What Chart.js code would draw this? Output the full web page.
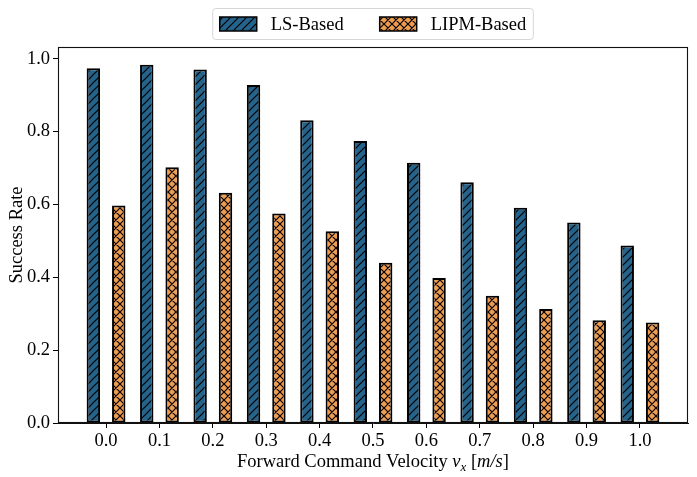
<!DOCTYPE html>
<html>
<head>
<meta charset="utf-8">
<script src="https://cdn.jsdelivr.net/npm/chart.js@4.4.1/dist/chart.umd.min.js"></script>
<style>
  body { margin: 0; background: #fff; }
  canvas { display: block; }
</style>
</head>
<body>
<canvas id="chart" width="697" height="477"></canvas>
<script>
// data
const velocities = [0.0, 0.1, 0.2, 0.3, 0.4, 0.5, 0.6, 0.7, 0.8, 0.9, 1.0];
const velocityLabels = ["0.0", "0.1", "0.2", "0.3", "0.4", "0.5", "0.6", "0.7", "0.8", "0.9", "1.0"];
const lsBased = [0.974, 0.983, 0.970, 0.928, 0.831, 0.774, 0.714, 0.661, 0.591, 0.550, 0.487];
const lipmBased = [0.597, 0.702, 0.632, 0.575, 0.526, 0.440, 0.398, 0.349, 0.313, 0.282, 0.276];
const rateTicks = [0.0, 0.2, 0.4, 0.6, 0.8, 1.0];
const rateLabels = ["0.0", "0.2", "0.4", "0.6", "0.8", "1.0"];

const FONT = "'Liberation Serif', 'Times New Roman', serif";
const FONT_SIZE = 18.5;

// matplotlib style hatching ("//" and "xx")
function makeHatch(bg, cross) {
  const size = 8;
  const c = document.createElement("canvas");
  c.width = size;
  c.height = size;
  const g = c.getContext("2d");
  g.fillStyle = bg;
  g.fillRect(0, 0, size, size);
  g.strokeStyle = "#000";
  g.lineWidth = 1.2;
  g.beginPath();
  g.moveTo(-1, size + 1); g.lineTo(size + 1, -1);
  g.moveTo(-1, 1); g.lineTo(1, -1);
  g.moveTo(size - 1, size + 1); g.lineTo(size + 1, size - 1);
  if (cross) {
    g.moveTo(-1, -1); g.lineTo(size + 1, size + 1);
    g.moveTo(size - 1, -1); g.lineTo(size + 1, 1);
    g.moveTo(-1, size - 1); g.lineTo(1, size + 1);
  }
  g.stroke();
  return g.createPattern(c, "repeat");
}

const blueHatch = makeHatch("#23638c", false);
const orangeHatch = makeHatch("#f09c4f", true);

// box around the axes, legend with hatched handles, x label with italics
const decorations = {
  id: "decorations",
  afterDraw(chart) {
    const ctx = chart.ctx;
    const area = chart.chartArea;
    ctx.save();

    // spines
    ctx.strokeStyle = "#111";
    ctx.lineWidth = 1.1;
    ctx.strokeRect(Math.round(area.left) + 0.5, Math.round(area.top) + 0.5,
      Math.round(area.right - area.left) - 1, Math.round(area.bottom - area.top) - 1);

    // legend
    ctx.font = `${FONT_SIZE}px ${FONT}`;
    const sets = chart.data.datasets;
    const handleW = 37, handleH = 14, textGap = 14, colGap = 36, pad = 7;
    const widths = sets.map(d => ctx.measureText(d.label).width);
    const total = widths.reduce((a, w) => a + handleW + textGap + w, 0) + colGap * (sets.length - 1) + 2 * pad;
    const cx = (area.left + area.right) / 2;
    const top = 8.5, h = 31;
    let x = cx - total / 2;
    ctx.beginPath();
    ctx.roundRect(x, top, total, h, 3);
    ctx.fillStyle = "rgba(255,255,255,0.8)";
    ctx.fill();
    ctx.strokeStyle = "#d6d6d6";
    ctx.lineWidth = 1;
    ctx.stroke();
    x += pad;
    const midY = top + h / 2;
    sets.forEach((d, i) => {
      ctx.fillStyle = d.backgroundColor;
      ctx.fillRect(x, midY - handleH / 2, handleW, handleH);
      ctx.strokeStyle = "#000";
      ctx.lineWidth = 1.5;
      ctx.strokeRect(x, midY - handleH / 2, handleW, handleH);
      ctx.fillStyle = "#000";
      ctx.textBaseline = "middle";
      ctx.textAlign = "left";
      ctx.fillText(d.label, x + handleW + textGap, midY + 1);
      x += handleW + textGap + widths[i] + colGap;
    });

    // x axis title: Forward Command Velocity v_x [m/s]
    const parts = [
      { t: "Forward Command Velocity ", f: `${FONT_SIZE}px ${FONT}`, dy: 0 },
      { t: "v", f: `italic ${FONT_SIZE}px ${FONT}`, dy: 0 },
      { t: "x", f: `italic ${FONT_SIZE * 0.7}px ${FONT}`, dy: 3.5 },
      { t: " [", f: `${FONT_SIZE}px ${FONT}`, dy: 0 },
      { t: "m/s", f: `italic ${FONT_SIZE}px ${FONT}`, dy: 0 },
      { t: "]", f: `${FONT_SIZE}px ${FONT}`, dy: 0 }
    ];
    let tw = 0;
    parts.forEach(p => { ctx.font = p.f; p.w = ctx.measureText(p.t).width; tw += p.w; });
    let tx = cx - tw / 2;
    const baseY = 467;
    ctx.textBaseline = "alphabetic";
    ctx.fillStyle = "#000";
    parts.forEach(p => {
      ctx.font = p.f;
      ctx.fillText(p.t, tx, baseY + p.dy);
      tx += p.w;
    });
    ctx.restore();
  }
};

Chart.defaults.font.family = FONT;
Chart.defaults.font.size = FONT_SIZE;
Chart.defaults.color = "#000";

new Chart(document.getElementById("chart"), {
  type: "bar",
  data: {
    datasets: [
      {
        label: "LS-Based",
        data: velocities.map((v, i) => ({ x: v, y: lsBased[i] })),
        backgroundColor: blueHatch,
        borderColor: "#000",
        borderWidth: 2,
        borderSkipped: false
      },
      {
        label: "LIPM-Based",
        data: velocities.map((v, i) => ({ x: v, y: lipmBased[i] })),
        backgroundColor: orangeHatch,
        borderColor: "#000",
        borderWidth: 2,
        borderSkipped: false
      }
    ]
  },
  options: {
    responsive: false,
    animation: false,
    categoryPercentage: 0.951,
    barPercentage: 0.528,
    layout: { padding: { top: 47, right: 9, left: 0, bottom: 0 } },
    plugins: {
      legend: { display: false },
      tooltip: { enabled: false }
    },
    scales: {
      x: {
        type: "linear",
        offset: false,
        min: -0.09,
        max: 1.09,
        afterBuildTicks: s => { s.ticks = velocities.map(v => ({ value: v })); },
        afterFit: s => { s.height = 54; },
        ticks: {
          callback: (v, i) => velocityLabels[i],
          padding: 2,
          maxRotation: 0
        },
        grid: {
          display: true,
          offset: false,
          drawOnChartArea: false,
          tickLength: 5,
          tickColor: "#000",
          tickWidth: 1
        },
        border: { display: true, color: "#111", width: 1 }
      },
      y: {
        min: 0,
        max: 1.032,
        afterBuildTicks: s => { s.ticks = rateTicks.map(v => ({ value: v })); },
        afterFit: s => { s.width = 58; },
        ticks: {
          callback: (v, i) => rateLabels[i],
          padding: 3
        },
        grid: {
          display: true,
          offset: false,
          drawOnChartArea: false,
          tickLength: 5,
          tickColor: "#000",
          tickWidth: 1
        },
        border: { display: true, color: "#111", width: 1 },
        title: {
          display: true,
          text: "Success Rate",
          padding: { top: 6, bottom: 0 }
        }
      }
    }
  },
  plugins: [decorations]
});
</script>
</body>
</html>
